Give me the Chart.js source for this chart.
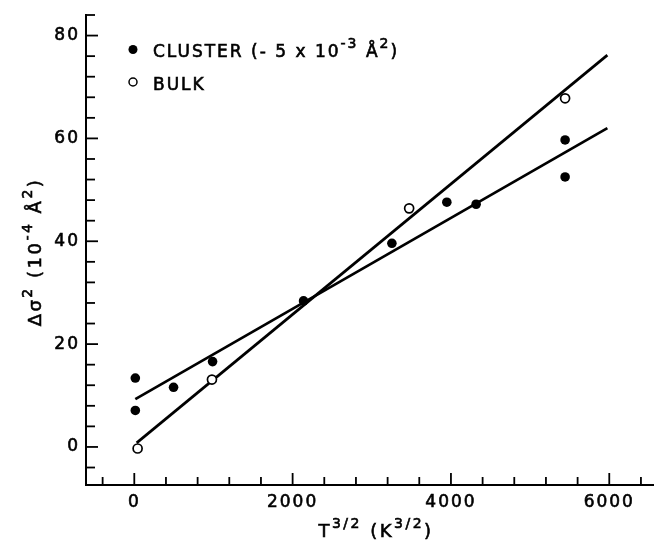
<!DOCTYPE html>
<html>
<head>
<meta charset="utf-8">
<script src="https://cdn.jsdelivr.net/npm/chart.js@4"></script>
<style>
  html, body { margin: 0; padding: 0; background: #fff; }
</style>
</head>
<body>
<canvas id="chart" width="654" height="540"></canvas>
<script>
// data
const clusterX = [13, 13, 496, 989, 2138, 3254, 3948, 4318, 5442, 5442];
const clusterY = [13.4, 7.1, 11.6, 16.6, 28.4, 39.6, 47.6, 47.2, 59.7, 52.5];
const bulkX = [42, 981, 3472, 5442];
const bulkY = [-0.3, 13.1, 46.4, 67.8];
const clusterFitX = [13, 5976];
const clusterFitY = [9.3, 62.0];
const bulkFitX = [30, 5976];
const bulkFitY = [0.8, 76.2];

// axis ticks
const xMajor = [0, 2000, 4000, 6000];
const xMinor = [-400, 400, 800, 1200, 1600, 2400, 2800, 3200, 3600, 4400, 4800, 5200, 5600, 6400];
const yMajor = [0, 20, 40, 60, 80];
const yMinor = [-4, 4, 8, 12, 16, 24, 28, 32, 36, 44, 48, 52, 56, 64, 68, 72, 76, 84];

const FONT = "'DejaVu Sans', sans-serif";

const pts = (xs, ys) => xs.map((x, i) => ({ x: x, y: ys[i] }));

// draw text with superscript pieces, parts = [[text, isSup], ...]
function drawRich(ctx, parts, x, y, size, align) {
  const supSize = Math.round(size * 0.8);
  let total = 0;
  const widths = parts.map(([t, sup]) => {
    ctx.font = (sup ? supSize : size) + "px " + FONT;
    const w = ctx.measureText(t).width;
    total += w;
    return w;
  });
  let cx = align === "center" ? x - total / 2 : x;
  ctx.textAlign = "left";
  ctx.textBaseline = "alphabetic";
  ctx.lineWidth = 0.6;
  parts.forEach(([t, sup], i) => {
    ctx.font = (sup ? supSize : size) + "px " + FONT;
    const ty = sup ? y - size * 0.5 : y;
    ctx.fillText(t, cx, ty);
    ctx.strokeText(t, cx, ty);
    cx += widths[i];
  });
}

const decorations = {
  id: "decorations",
  beforeDraw(chart) {
    chart.ctx.letterSpacing = "2px";
  },
  afterDraw(chart) {
    const ctx = chart.ctx;
    const xs = chart.scales.x;
    const ys = chart.scales.y;
    const area = chart.chartArea;
    ctx.save();
    ctx.strokeStyle = "#000";
    ctx.fillStyle = "#000";
    ctx.lineWidth = 1.8;

    // inward ticks
    const xTick = (v, len) => {
      const px = xs.getPixelForValue(v);
      ctx.beginPath();
      ctx.moveTo(px, area.bottom);
      ctx.lineTo(px, area.bottom - len);
      ctx.stroke();
    };
    const yTick = (v, len) => {
      const py = ys.getPixelForValue(v);
      ctx.beginPath();
      ctx.moveTo(area.left, py);
      ctx.lineTo(area.left + len, py);
      ctx.stroke();
    };
    xMajor.forEach(v => xTick(v, 12));
    xMinor.forEach(v => xTick(v, 8));
    yMajor.forEach(v => yTick(v, 12));
    yMinor.forEach(v => yTick(v, 9));

    // legend
    ctx.beginPath();
    ctx.arc(133, 49.5, 4.5, 0, Math.PI * 2);
    ctx.fill();
    ctx.beginPath();
    ctx.lineWidth = 1.5;
    ctx.arc(133, 82, 4, 0, Math.PI * 2);
    ctx.stroke();
    ctx.letterSpacing = "2px";
    drawRich(ctx, [["CLUSTER (- 5 x 10", false], ["-3", true], [" Å", false], ["2", true], [")", false]], 153, 56.5, 17, "left");
    drawRich(ctx, [["BULK", false]], 153, 90, 17, "left");

    // x title
    ctx.letterSpacing = "2.5px";
    drawRich(ctx, [["T", false], ["3/2", true], [" (K", false], ["3/2", true], [")", false]], 376, 537, 18, "center");

    // y title
    ctx.save();
    ctx.translate(41, 252);
    ctx.rotate(-Math.PI / 2);
    drawRich(ctx, [["Δσ", false], ["2", true], [" (10", false], ["-4", true], [" Å", false], ["2", true], [")", false]], 0, 0, 18, "center");
    ctx.restore();

    ctx.restore();
  }
};

new Chart(document.getElementById("chart").getContext("2d"), {
  type: "scatter",
  data: {
    datasets: [
      {
        label: "CLUSTER",
        data: pts(clusterX, clusterY),
        pointRadius: 4.8,
        backgroundColor: "#000",
        borderColor: "#000",
        borderWidth: 0,
        order: 0
      },
      {
        label: "BULK",
        data: pts(bulkX, bulkY),
        pointRadius: 4.5,
        backgroundColor: "#fff",
        borderColor: "#000",
        borderWidth: 1.7,
        order: 0
      },
      {
        type: "line",
        label: "cluster fit",
        data: pts(clusterFitX, clusterFitY),
        borderColor: "#000",
        borderWidth: 2.7,
        pointRadius: 0,
        fill: false,
        order: 1
      },
      {
        type: "line",
        label: "bulk fit",
        data: pts(bulkFitX, bulkFitY),
        borderColor: "#000",
        borderWidth: 2.7,
        pointRadius: 0,
        fill: false,
        order: 1
      }
    ]
  },
  options: {
    responsive: false,
    animation: false,
    events: [],
    layout: { autoPadding: false, padding: { top: 15, right: 0, left: 0, bottom: 0 } },
    plugins: {
      legend: { display: false },
      tooltip: { enabled: false }
    },
    scales: {
      x: {
        type: "linear",
        min: -610,
        max: 6565,
        afterBuildTicks: s => { s.ticks = xMajor.map(v => ({ value: v })); },
        afterFit: s => { s.height = 55; s.paddingLeft = 0; s.paddingRight = 0; },
        grid: { display: false, drawTicks: false },
        border: { display: true, color: "#000", width: 2 },
        ticks: {
          color: "#000",
          font: { family: FONT, size: 17 },
          textStrokeColor: "#000",
          textStrokeWidth: 0.6,
          padding: 7,
          maxRotation: 0,
          autoSkip: false,
          callback: v => String(v)
        }
      },
      y: {
        type: "linear",
        min: -7.4,
        max: 84,
        afterBuildTicks: s => { s.ticks = yMajor.map(v => ({ value: v })); },
        afterFit: s => { s.width = 86; s.paddingTop = 0; s.paddingBottom = 0; },
        grid: { display: false, drawTicks: false },
        border: { display: true, color: "#000", width: 2 },
        ticks: {
          color: "#000",
          font: { family: FONT, size: 17 },
          textStrokeColor: "#000",
          textStrokeWidth: 0.6,
          padding: 6,
          autoSkip: false,
          callback: v => String(v)
        }
      }
    }
  },
  plugins: [decorations]
});
</script>
</body>
</html>
